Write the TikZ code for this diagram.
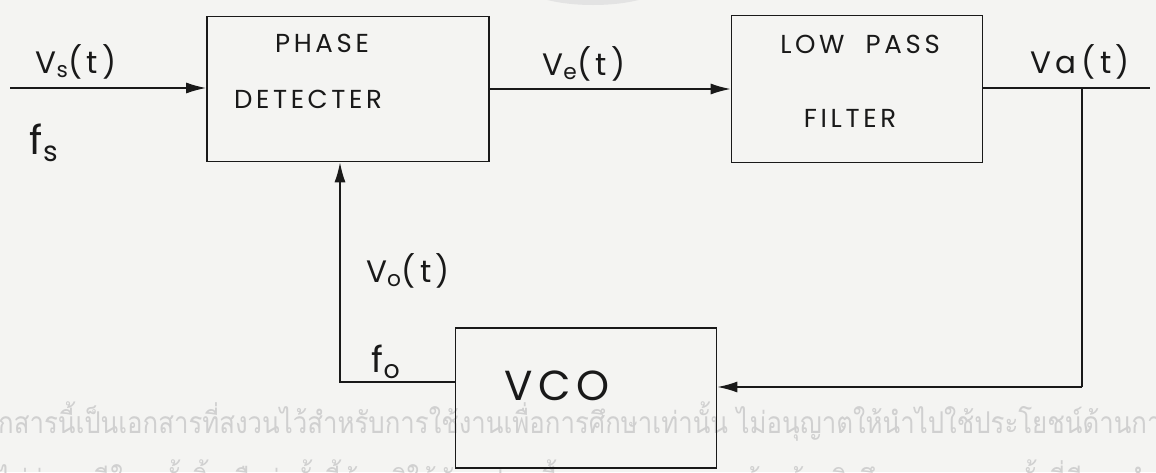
\documentclass[tikz,border=0pt]{standalone}
\usepackage{fontspec}
\usepackage{tikz}
\usetikzlibrary{arrows.meta}
\newfontfamily\hand[LetterSpace=14]{Poppins}
\newfontfamily\thaifont[Script=Thai]{Loma}
\definecolor{paper}{RGB}{244,244,242}
\definecolor{wmark}{RGB}{208,208,208}
\definecolor{ink}{RGB}{25,25,25}

\begin{document}
\begin{tikzpicture}[x=1pt,y=-1pt,
  blk/.style={draw=ink, line width=1.6pt, inner sep=0pt},
  lbl/.style={text=ink, inner sep=0pt, font=\hand\fontsize{#1}{#1}\selectfont},
  wm/.style={anchor=west, text=wmark, inner sep=0pt, xscale=0.86, font=\thaifont\fontsize{30}{30}\selectfont},
  wire/.style={draw=ink, line width=1.6pt},
  sig/.style={wire, -{Latex[length=20pt,width=11pt]}}]
% paper
\fill[paper] (0,0) rectangle (1156,472);
\useasboundingbox (0,0) rectangle (1156,472);

% watermark
\fill[wmark!60] (593,-20) ellipse (76 and 25);
\node[wm] (wm1) at (-2,422)
  {กสารนี้เป็นเอกสารที่สงวนไว้สำหรับการใช้งานเพื่อการศึกษาเท่านั้น ไม่อนุญาตให้นำไปใช้ประโยชน์ด้านกา};
\node[wm] (wm2) at (-2,480)
  {ไม่ว่ากรณีใดๆ ทั้งสิ้น ถือว่าทั้งนี้ห้ามมิให้ดัดแปลงเนื้อหาเอกสาร และต้องอ้างอิงถึงเอกสารทุกครั้งที่มีการนำไปใ};

% blocks
\node[blk, minimum width=282pt, minimum height=145pt] (pd) at (348,89) {};
\node[blk, minimum width=251pt, minimum height=147pt] (lpf) at (857,89) {};
\node[blk, minimum width=261pt, minimum height=140pt] (vco) at (586,398) {};

% block texts
\node[lbl=26] (pdA) at (322,43) {PHASE};
\node[lbl=26] (pdB) at (308,99) {DETECTER};
\node[lbl=26] (lpfA) at (860,44) {LOW\ \ PASS};
\node[lbl=26] (lpfB) at (850,118) {FILTER};
\node[lbl=42] (vcoT) at (557,386) {VCO};

% signal labels
\node[lbl=31] (vs) at (76,62) {V\textsubscript{s}(t)};
\node[lbl=40] (fs) at (44,143) {f\textsubscript{s}};
\node[lbl=31] (ve) at (584,64) {V\textsubscript{e}(t)};
\node[lbl=31] (va) at (1080,62) {Va\,(t)};
\node[lbl=31] (vo) at (408,271) {V\textsubscript{o}(t)};
\node[lbl=36] (fo) at (386,362) {f\textsubscript{o}};

% free ends and bends
\coordinate (in) at (10,88);
\coordinate (out) at (1150,88);
\coordinate (tap) at (1082,88);
\coordinate (ret) at (1082,387);
\coordinate (fb) at (340,382);

% connectors
\draw[sig] (in) -- (in -| pd.west);
\draw[sig] (pd.east) -- (lpf.west);
\draw[wire] (lpf.east |- out) -- (out);
\draw[wire] (tap) -- (ret);
\draw[sig] (ret) -- (ret -| vco.east);
\draw[sig] (vco.west |- fb) -- (fb) -- (fb |- pd.south);
\end{tikzpicture}
\end{document}
